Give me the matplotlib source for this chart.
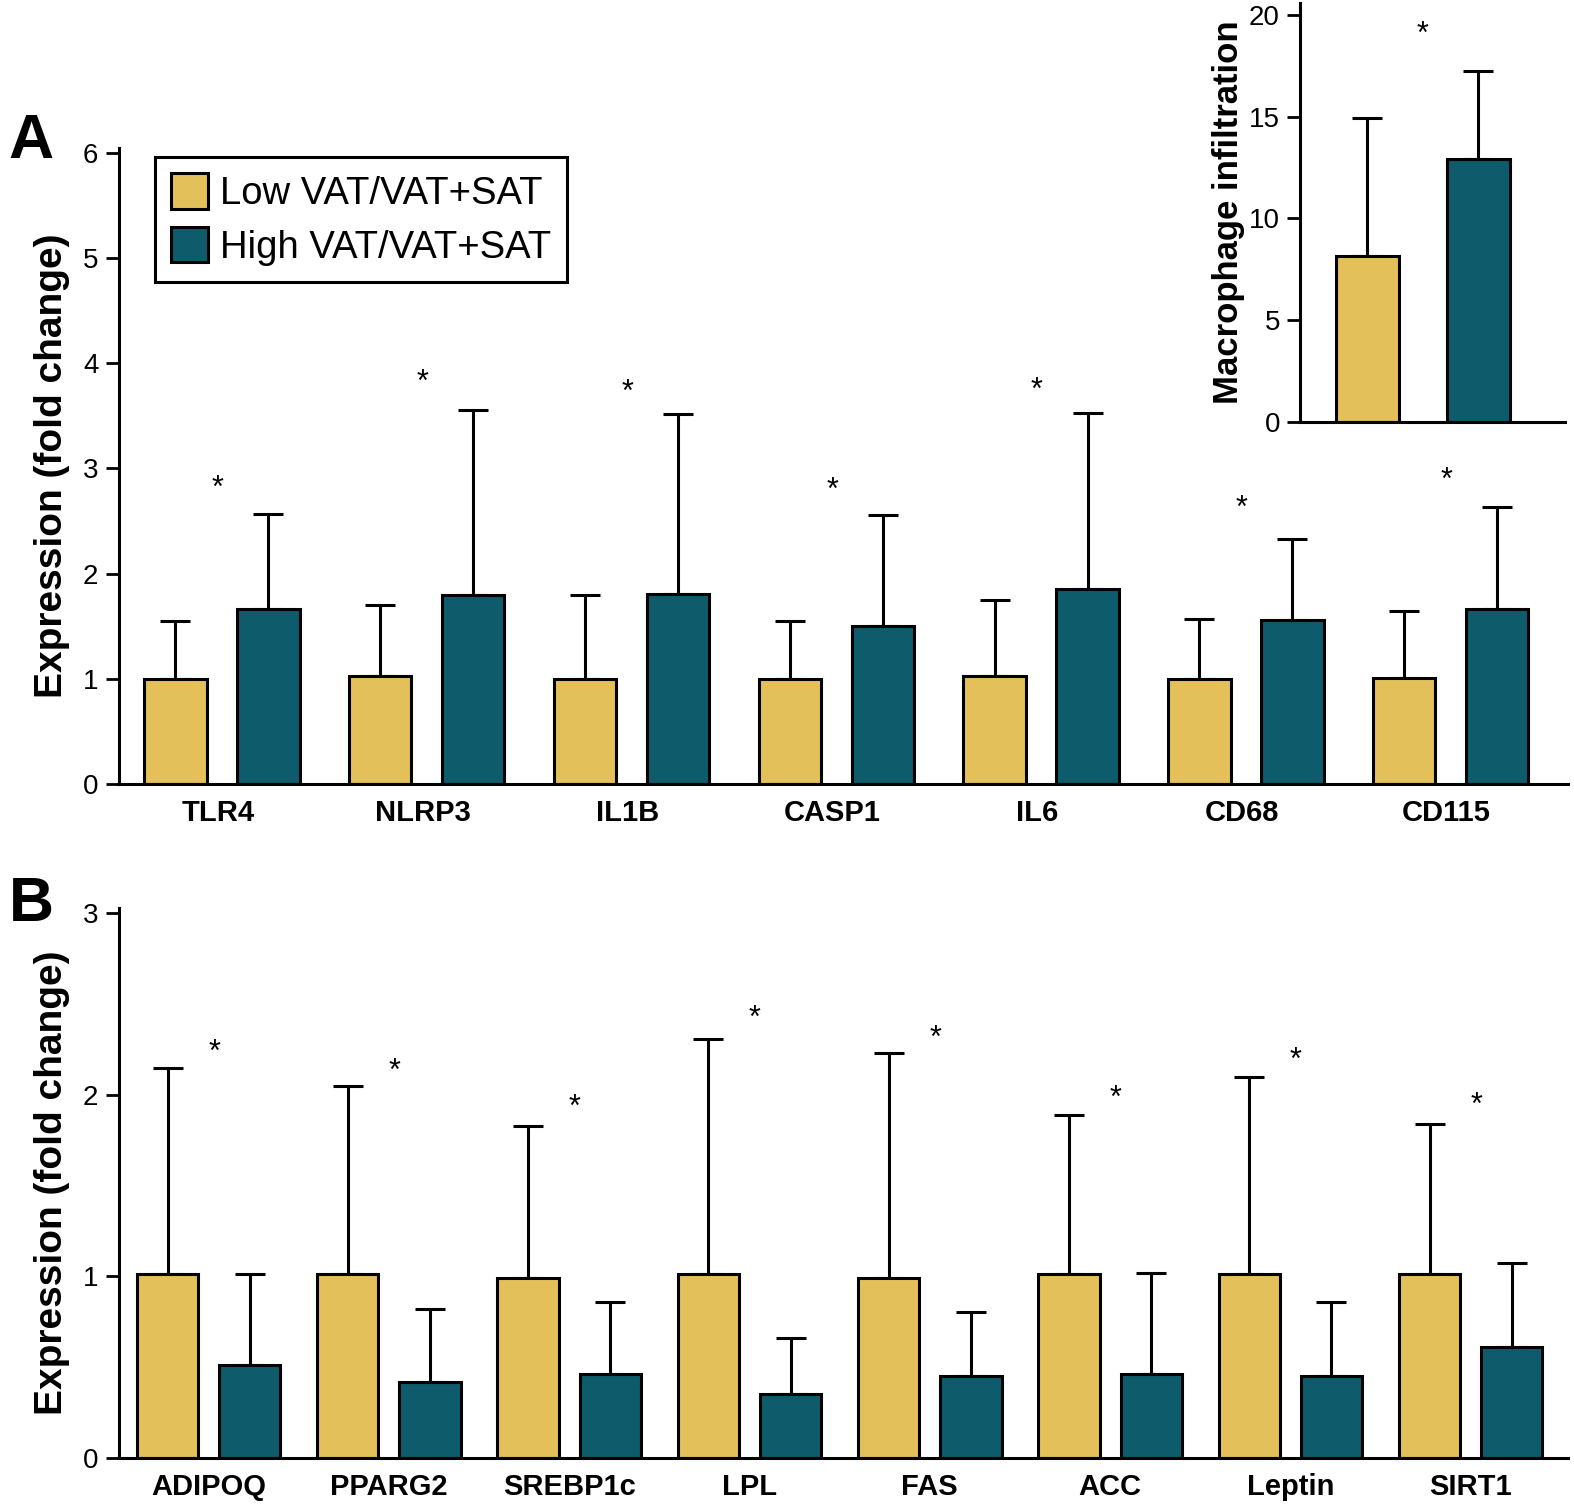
import numpy as np
import matplotlib
matplotlib.use("Agg")
import matplotlib.pyplot as plt
from matplotlib.patches import Patch
from matplotlib import transforms

plt.rcParams['font.family'] = ['Liberation Sans', 'DejaVu Sans']

GOLD = "#E4C05B"
TEAL = "#0D5B6B"

# panel A: inflammation genes
genes_a = ["TLR4", "NLRP3", "IL1B", "CASP1", "IL6", "CD68", "CD115"]
low_a = [1.00, 1.03, 1.00, 1.00, 1.03, 1.00, 1.01]
low_a_err = [0.55, 0.67, 0.80, 0.55, 0.72, 0.57, 0.63]
high_a = [1.66, 1.80, 1.81, 1.50, 1.85, 1.56, 1.66]
high_a_err = [0.91, 1.76, 1.71, 1.06, 1.68, 0.77, 0.97]
star_a = [2.89, 3.90, 3.81, 2.88, 3.83, 2.70, 2.97]

# panel B: adipogenic / lipogenic genes
genes_b = ["ADIPOQ", "PPARG2", "SREBP1c", "LPL", "FAS", "ACC", "Leptin", "SIRT1"]
low_b = [1.01, 1.01, 0.99, 1.01, 0.99, 1.01, 1.01, 1.01]
low_b_err = [1.14, 1.04, 0.84, 1.30, 1.24, 0.88, 1.09, 0.83]
high_b = [0.51, 0.415, 0.46, 0.35, 0.45, 0.46, 0.45, 0.61]
high_b_err = [0.50, 0.405, 0.40, 0.31, 0.35, 0.56, 0.41, 0.46]
star_b = [2.28, 2.18, 1.98, 2.47, 2.36, 2.03, 2.24, 1.99]

# inset: macrophage infiltration
macro = [8.17, 12.92]
macro_err = [6.75, 4.35]
macro_star = 19.5

W, H = 1574, 1504
fig = plt.figure(figsize=(W / 100, H / 100), dpi=100)

axA = fig.add_axes([118.5 / W, 1 - 784 / H, (1568 - 118.5) / W, (784 - 147.6) / H])
axB = fig.add_axes([118.5 / W, 1 - 1457.5 / H, (1568 - 118.5) / W, (1457.5 - 908) / H])
axI = fig.add_axes([1300 / W, 1 - 421.7 / H, (1565 - 1300) / W, (421.7 - 3) / H])


def style(ax):
    for s in ["top", "right"]:
        ax.spines[s].set_visible(False)
    for s in ["left", "bottom"]:
        ax.spines[s].set_linewidth(2.2)
    ax.tick_params(axis="y", length=9.4, width=2, pad=5, labelsize=20)
    ax.tick_params(axis="x", length=0, pad=11, labelsize=21)


def bars(ax, xs, vals, errs, color, width):
    n = len(vals)
    ax.bar(xs, vals, width, color=color, edgecolor="black", linewidth=2.2, zorder=2)
    ax.errorbar(xs, vals, yerr=[np.zeros(n), errs], fmt="none", ecolor="black",
                elinewidth=2.2, capsize=10.5, capthick=2.2, zorder=1)


def stars(ax, xs, ys):
    tr = transforms.offset_copy(ax.transData, fig=fig, y=-12.5, units="points")
    for x, y in zip(xs, ys):
        ax.text(x, y, "*", fontsize=22, ha="center", va="baseline", transform=tr)


# Panel A
xa = np.arange(len(genes_a))
bars(axA, xa - 0.227, low_a, low_a_err, GOLD, 0.305)
bars(axA, xa + 0.227, high_a, high_a_err, TEAL, 0.305)
stars(axA, xa - 0.02, star_a)
axA.set_xlim(-0.505, 6.573)
axA.set_ylim(0, 6.05)
axA.set_yticks(range(0, 7))
axA.set_xticks(xa - 0.02)
axA.set_xticklabels(genes_a, fontweight="bold")
style(axA)
axA.set_ylabel("Expression (fold change)", fontsize=28, fontweight="bold", labelpad=9)

# Panel B
xb = np.arange(len(genes_b))
bars(axB, xb - 0.228, low_b, low_b_err, GOLD, 0.34)
bars(axB, xb + 0.228, high_b, high_b_err, TEAL, 0.34)
stars(axB, xb + 0.03, star_b)
axB.set_xlim(-0.50, 7.54)
axB.set_ylim(0, 3.03)
axB.set_yticks(range(0, 4))
axB.set_xticks(xb)
axB.set_xticklabels(genes_b, fontweight="bold")
style(axB)
axB.set_ylabel("Expression (fold change)", fontsize=28, fontweight="bold", labelpad=9)

# Inset
xi = np.arange(2)
bars(axI, xi[:1], macro[:1], macro_err[:1], GOLD, 0.56)
bars(axI, xi[1:], macro[1:], macro_err[1:], TEAL, 0.56)
stars(axI, [0.5], [macro_star])
axI.set_xlim(-0.608, 1.78)
axI.set_ylim(0, 20.6)
axI.set_yticks([0, 5, 10, 15, 20])
axI.set_xticks([])
style(axI)
axI.set_ylabel("Macrophage infiltration", fontsize=25, fontweight="bold", labelpad=3)

# legend
handles = [Patch(facecolor=GOLD, edgecolor="black", linewidth=2.2),
           Patch(facecolor=TEAL, edgecolor="black", linewidth=2.2)]
leg = fig.legend(handles, ["Low VAT/VAT+SAT", "High VAT/VAT+SAT"],
                 loc="upper left", bbox_to_anchor=(155 / W, 1 - 157 / H),
                 fontsize=27.5, frameon=True, fancybox=False, edgecolor="black",
                 framealpha=1, borderaxespad=0, handlelength=0.97, handleheight=1.07,
                 handletextpad=0.32, labelspacing=0.38, borderpad=0.42)
leg.get_frame().set_linewidth(2.2)

fig.text(8 / W, 1 - 157.5 / H, "A", fontsize=45, fontweight="bold", va="baseline")
fig.text(9 / W, 1 - 921 / H, "B", fontsize=45, fontweight="bold", va="baseline")

fig.savefig("out.png", dpi=100)
